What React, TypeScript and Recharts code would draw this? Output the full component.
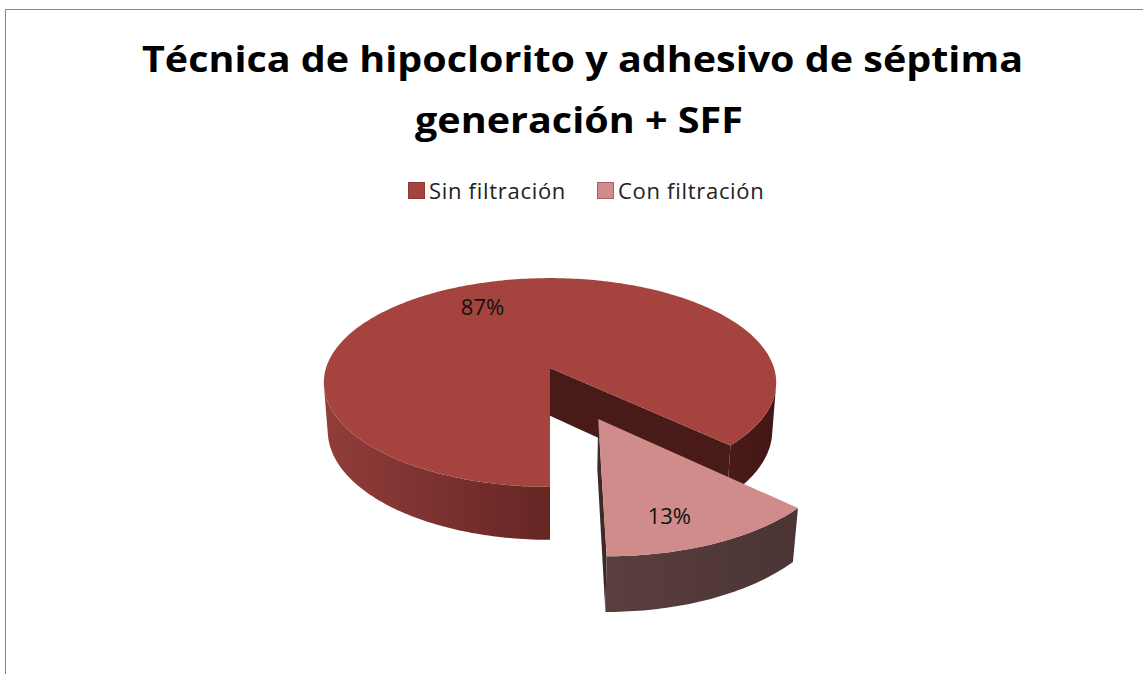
import React from "react";
import { PieChart, Pie, Cell, Legend } from "recharts";

// Data
const categories = ["Sin filtración", "Con filtración"];
const shares = [87, 13];
const sliceColors = ["#A5433F", "#CF8C8A"];

const titleLines = ["Técnica de hipoclorito y adhesivo de séptima", "generación + SFF"];

// camera for the fake 3D look (lengths in units of the pie radius)
const RAD = Math.PI / 180;
const TILT = 27.2 * RAD;
const SIN_T = Math.sin(TILT);
const COS_T = Math.cos(TILT);
const PERSP = 0.156; // radius / camera distance
const THICK = 0.244;

const explode: Record<string, number> = { "Con filtración": 0.507 };
const labelPos: Record<string, { f: number; da: number }> = {
    "Sin filtración": { f: 0.74, da: 3 },
    "Con filtración": { f: 0.77, da: -5 },
};
const sideStops: Record<string, string[]> = {
    "Sin filtración": ["#913D3A", "#652624", "#421715"],
    "Con filtración": ["#6E4E4E", "#5A3F3F", "#4A3232"],
};
const innerFace: Record<string, string> = { "Sin filtración": "#481B19", "Con filtración": "#3E2929" };
const legendBorder = ["#8A3A37", "#A8605E"];

const pieData = categories.map((name, i) => ({ name, value: shares[i] }));

// u to the right, v away from the viewer, h up
function project(cx: number, cy: number, R: number, u: number, v: number, h: number) {
    const zn = 1 + (v * COS_T - h * SIN_T) * PERSP;
    return [cx + (R * u) / zn, cy - (R * (v * SIN_T + h * COS_T)) / zn];
}

function apexOf(mid: number, name: string) {
    const e = explode[name] ?? 0;
    return { ou: e * Math.cos(mid * RAD), ov: e * Math.sin(mid * RAD) };
}

// one 3D pie slice: inner cut faces, outer wall, then the top face
function Slice3D(props: any) {
    const { cx, cy, outerRadius: R, startAngle, endAngle, fill, name, payload } = props;
    const key: string = name ?? payload?.name;
    const mid = (startAngle + endAngle) / 2;
    const { ou, ov } = apexOf(mid, key);
    const rim = (a: number, h = 0) => project(cx, cy, R, ou + Math.cos(a * RAD), ov + Math.sin(a * RAD), h);
    const dir = endAngle >= startAngle ? 1 : -1;
    const camV = -COS_T / PERSP;

    const angles: number[] = [startAngle];
    const lo = Math.min(startAngle, endAngle);
    const hi = Math.max(startAngle, endAngle);
    const inner: number[] = [];
    for (let a = Math.floor(lo) + 1; a < hi; a += 1) inner.push(a);
    inner.sort((p, q) => (p - q) * dir);
    angles.push(...inner, endAngle);

    const [ax, ay] = project(cx, cy, R, ou, ov, 0);
    const [bx, by] = project(cx, cy, R, ou, ov, -THICK);
    const top = `M${ax},${ay} ` + angles.map((a) => { const [x, y] = rim(a); return `L${x},${y}`; }).join(" ") + " Z";

    // parts of the rim whose wall faces the camera
    const facing = (a: number) => {
        const c = Math.cos(a * RAD), s = Math.sin(a * RAD);
        return -(ou * c + ov * s) - 1 + s * camV > 0;
    };
    const runs: number[][] = [];
    let cur: number[] = [];
    for (let i = 0; i < angles.length - 1; i++) {
        if (facing((angles[i] + angles[i + 1]) / 2)) {
            if (cur.length === 0) cur.push(angles[i]);
            cur.push(angles[i + 1]);
        } else if (cur.length) {
            runs.push(cur);
            cur = [];
        }
    }
    if (cur.length) runs.push(cur);

    const walls = runs.map((run) => {
        const pts = [...run.map((a) => rim(a)), ...run.slice().reverse().map((a) => rim(a, -THICK))];
        return "M" + pts.map(([x, y]) => `${x},${y}`).join(" L") + " Z";
    });

    const faces: string[] = [];
    const faceAt = (a: number, normal: number) => {
        const nx = Math.cos(normal * RAD), ny = Math.sin(normal * RAD);
        if (-nx * ou + ny * (camV - ov) > 0.05) {
            const [x1, y1] = rim(a);
            const [x2, y2] = rim(a, -THICK);
            faces.push(`M${ax},${ay} L${x1},${y1} L${x2},${y2} L${bx},${by} Z`);
        }
    };
    faceAt(startAngle, startAngle - dir * 90);
    faceAt(endAngle, endAngle + dir * 90);

    const gid = "side-" + String(key).replace(/[^a-z]/gi, "");
    const stops = sideStops[key] ?? ["#888", "#666", "#444"];
    const [lx] = project(cx, cy, R, ou - 1, ov, 0);
    const [rx] = project(cx, cy, R, ou + 1, ov, 0);
    return (
        <g>
            <defs>
                <linearGradient id={gid} gradientUnits="userSpaceOnUse" x1={lx} y1={0} x2={rx} y2={0}>
                    <stop offset="0" stopColor={stops[0]} />
                    <stop offset="0.5" stopColor={stops[1]} />
                    <stop offset="1" stopColor={stops[2]} />
                </linearGradient>
            </defs>
            {faces.map((d, i) => (
                <path key={"f" + i} d={d} fill={innerFace[key] ?? "#333"} />
            ))}
            {walls.map((d, i) => (
                <path key={"w" + i} d={d} fill={`url(#${gid})`} />
            ))}
            <path d={top} fill={fill} />
        </g>
    );
}

function renderLabel(props: any) {
    const { cx, cy, midAngle, outerRadius, percent, name, payload } = props;
    const key: string = name ?? payload?.name;
    const { ou, ov } = apexOf(midAngle, key);
    const { f, da } = labelPos[key] ?? { f: 0.7, da: 0 };
    const a = (midAngle + da) * RAD;
    const [x, y] = project(cx, cy, outerRadius, ou + f * Math.cos(a), ov + f * Math.sin(a), 0);
    return (
        <text x={x} y={y} textAnchor="middle" dominantBaseline="central" fontSize={22} fill="#111"
            fontFamily="'Open Sans', sans-serif">
            {`${Math.round(percent * 100)}%`}
        </text>
    );
}

function LegendBox({ payload }: any) {
    const items = (payload ?? []).slice().sort(
        (p: any, q: any) => categories.indexOf(p.value) - categories.indexOf(q.value)
    );
    return (
        <div style={{
            display: "flex", alignItems: "center", fontFamily: "'Open Sans', sans-serif",
            fontSize: 22, letterSpacing: 0.7, color: "#222", lineHeight: "26px",
        }}>
            {items.map((entry: any) => {
                const i = categories.indexOf(entry.value);
                return (
                    <div key={entry.value} style={{ display: "flex", alignItems: "center", marginRight: 31 }}>
                        <span style={{
                            display: "inline-block", width: 17, height: 17, marginRight: 4,
                            background: sliceColors[i] ?? entry.color,
                            border: `1px solid ${legendBorder[i] ?? "#888"}`, boxSizing: "border-box",
                        }} />
                        <span>{entry.value}</span>
                    </div>
                );
            })}
        </div>
    );
}

export default function App() {
    return (
        <div style={{ position: "absolute", left: 0, top: 0, width: 1143, height: 674, background: "#fff", overflow: "hidden" }}>
            <div style={{
                position: "absolute", left: 5, top: 9, width: 1200, height: 700,
                borderLeft: "1px solid #868686", borderTop: "1px solid #868686",
            }} />
            <svg width={1143} height={674} style={{ position: "absolute", left: 0, top: 0 }}>
                <text x={582.5} y={72} textAnchor="middle" fontFamily="'Open Sans', sans-serif" fontWeight={700}
                    fontSize={35} textLength={881} lengthAdjust="spacingAndGlyphs" fill="#000">
                    {titleLines[0]}
                </text>
                <text x={579} y={133} textAnchor="middle" fontFamily="'Open Sans', sans-serif" fontWeight={700}
                    fontSize={35} textLength={328} lengthAdjust="spacingAndGlyphs" fill="#000">
                    {titleLines[1]}
                </text>
            </svg>
            <div style={{ position: "absolute", left: 0, top: 0 }}>
                <PieChart width={1143} height={674} margin={{ top: 0, right: 0, bottom: 0, left: 0 }}>
                    <Legend
                        content={<LegendBox />}
                        wrapperStyle={{ position: "absolute", top: 177, left: 408, width: "auto" }}
                    />
                    <Pie
                        data={pieData}
                        dataKey="value"
                        nameKey="name"
                        cx={550}
                        cy={368}
                        outerRadius={224}
                        startAngle={270}
                        endAngle={-90}
                        stroke="none"
                        shape={Slice3D}
                        inactiveShape={Slice3D}
                        activeShape={Slice3D}
                        label={renderLabel}
                        labelLine={false}
                        isAnimationActive={false}
                    >
                        {pieData.map((d, i) => (
                            <Cell key={d.name} fill={sliceColors[i]} />
                        ))}
                    </Pie>
                </PieChart>
            </div>
        </div>
    );
}
